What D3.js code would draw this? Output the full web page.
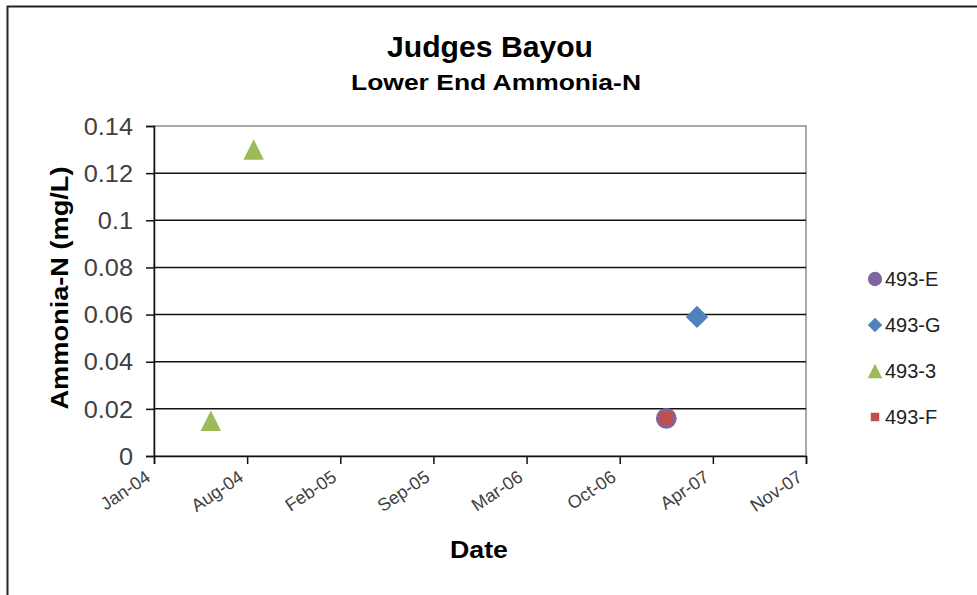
<!DOCTYPE html>
<html>
<head>
<meta charset="utf-8">
<title>Judges Bayou</title>
<script src="https://d3js.org/d3.v7.min.js"></script>
<style>
    body { margin: 0; background: white; }
    text { font-family: "Liberation Sans", Arial, sans-serif; }
</style>
</head>
<body>
<svg id="chart" width="977" height="595"></svg>
<script>
    // Excel serial day numbers -> JS dates
    const xl = n => new Date(Date.UTC(1899, 11, 30) + n * 864e5);

    const seriesNames = ["493-E", "493-G", "493-3", "493-F"];
    const seriesColors = ["#8064A2", "#4F81BD", "#9BBB59", "#C0504D"];

    // observations (Excel date serials, mg/L)
    const dates_493E = [39100];
    const vals_493E = [0.016];
    const dates_493G = [39166];
    const vals_493G = [0.059];
    const dates_4933 = [38122, 38214];
    const vals_4933 = [0.015, 0.13];
    const dates_493F = [39100];
    const vals_493F = [0.016];

    const yTicks = [0, 0.02, 0.04, 0.06, 0.08, 0.1, 0.12, 0.14];
    const xTickSerials = [38000, 38200, 38400, 38600, 38800, 39000, 39200, 39400];

    // marker shapes, centred on their bounding box like Excel markers
    const triangle = { draw(ctx, size) { const r = Math.sqrt(size) / 2;
        ctx.moveTo(0, -r); ctx.lineTo(r, r); ctx.lineTo(-r, r); ctx.closePath(); } };
    const diamond = { draw(ctx, size) { const r = Math.sqrt(size) / 2;
        ctx.moveTo(0, -r); ctx.lineTo(r, 0); ctx.lineTo(0, r); ctx.lineTo(-r, 0); ctx.closePath(); } };
    const shapes = [d3.symbolCircle, diamond, triangle, d3.symbolSquare];
    const plotSizes = [340, 500, 420, 160];
    const legendSizes = [160, 210, 210, 72];

    const series = [
        { dates: dates_493E, vals: vals_493E },
        { dates: dates_493G, vals: vals_493G },
        { dates: dates_4933, vals: vals_4933 },
        { dates: dates_493F, vals: vals_493F }
    ].map((s, i) => ({
        name: seriesNames[i], color: seriesColors[i], shape: shapes[i],
        size: plotSizes[i], lsize: legendSizes[i],
        points: s.dates.map((d, j) => ({ date: xl(d), value: s.vals[j] }))
    }));

    // widen text glyphs by a factor, keeping the anchor
    function stretch(sel, f) {
        sel.each(function () {
            const L = this.getComputedTextLength();
            d3.select(this).attr("textLength", L * f).attr("lengthAdjust", "spacingAndGlyphs");
        });
    }

    const svg = d3.select("#chart");
    const plotL = 154, plotR = 806, plotT = 126, plotB = 456;

    // outer frame
    svg.append("rect")
        .attr("x", 7.5).attr("y", 6.5)
        .attr("width", 1000).attr("height", 700)
        .attr("fill", "none").attr("stroke", "#222").attr("stroke-width", 2);

    const x = d3.scaleUtc()
        .domain([xl(xTickSerials[0]), xl(xTickSerials[xTickSerials.length - 1])])
        .range([plotL, plotR]);
    const y = d3.scaleLinear().domain([0, 0.14]).range([plotB, plotT]);

    // plot area border (top/right in gray)
    svg.append("rect")
        .attr("x", plotL).attr("y", plotT)
        .attr("width", plotR - plotL).attr("height", plotB - plotT)
        .attr("fill", "none").attr("stroke", "#8c8c8c").attr("stroke-width", 1.5);

    // gridlines
    svg.append("g").selectAll("line")
        .data(yTicks.slice(1, -1))
        .join("line")
        .attr("x1", plotL).attr("x2", plotR)
        .attr("y1", d => y(d)).attr("y2", d => y(d))
        .attr("stroke", "#111").attr("stroke-width", 1.5);

    // y axis
    const yAxis = svg.append("g")
        .attr("transform", `translate(${plotL},0)`)
        .call(d3.axisLeft(y).tickValues(yTicks).tickSize(8).tickPadding(13).tickFormat(d => String(d)));
    yAxis.select(".domain").attr("stroke", "#111").attr("stroke-width", 1.5);
    yAxis.selectAll(".tick line").attr("stroke", "#111").attr("stroke-width", 1.5);
    yAxis.selectAll("text")
        .attr("fill", "#404040")
        .attr("dy", "0.36em")
        .style("font-size", "23px")
        .style("font-family", "'Liberation Sans', Arial, sans-serif")
        .call(stretch, 1.1);

    // x axis
    const xAxis = svg.append("g")
        .attr("transform", `translate(0,${plotB})`)
        .call(d3.axisBottom(x).tickValues(xTickSerials.map(xl)).tickSize(8)
            .tickFormat(d3.utcFormat("%b-%y")));
    xAxis.select(".domain").attr("stroke", "#111").attr("stroke-width", 1.5);
    xAxis.selectAll(".tick line").attr("stroke", "#111").attr("stroke-width", 1.5);
    xAxis.selectAll("text")
        .attr("fill", "#404040")
        .attr("text-anchor", "end")
        .attr("x", 0).attr("y", 0).attr("dy", 0)
        .attr("transform", "translate(-3,24) rotate(-34)")
        .style("font-size", "18px")
        .style("font-family", "'Liberation Sans', Arial, sans-serif");

    // points
    series.forEach(s => {
        svg.append("g").selectAll("path")
            .data(s.points)
            .join("path")
            .attr("transform", d => `translate(${x(d.date)},${y(d.value)})`)
            .attr("d", d3.symbol().type(s.shape).size(s.size))
            .attr("fill", s.color);
    });

    // titles
    svg.append("text")
        .attr("x", 490).attr("y", 57)
        .attr("text-anchor", "middle")
        .attr("textLength", 206).attr("lengthAdjust", "spacingAndGlyphs")
        .style("font-size", "29px").style("font-weight", "bold")
        .text("Judges Bayou");
    svg.append("text")
        .attr("x", 496).attr("y", 90)
        .attr("text-anchor", "middle")
        .attr("textLength", 290).attr("lengthAdjust", "spacingAndGlyphs")
        .style("font-size", "22px").style("font-weight", "bold")
        .text("Lower End Ammonia-N");
    svg.append("text")
        .attr("transform", `translate(68,288) rotate(-90)`)
        .attr("text-anchor", "middle")
        .attr("textLength", 243).attr("lengthAdjust", "spacingAndGlyphs")
        .style("font-size", "24px").style("font-weight", "bold")
        .text("Ammonia-N (mg/L)");
    svg.append("text")
        .attr("x", 479).attr("y", 558)
        .attr("text-anchor", "middle")
        .attr("textLength", 58).attr("lengthAdjust", "spacingAndGlyphs")
        .style("font-size", "23px").style("font-weight", "bold")
        .text("Date");

    // legend
    const legend = svg.append("g").selectAll("g")
        .data(series)
        .join("g")
        .attr("transform", (d, i) => `translate(875,${279 + i * 46})`);
    legend.append("path")
        .attr("d", d => d3.symbol().type(d.shape).size(d.lsize)())
        .attr("fill", d => d.color);
    legend.append("text")
        .attr("x", 10).attr("y", 7)
        .style("font-size", "20px")
        .attr("fill", "#222")
        .text(d => d.name);
</script>
</body>
</html>
